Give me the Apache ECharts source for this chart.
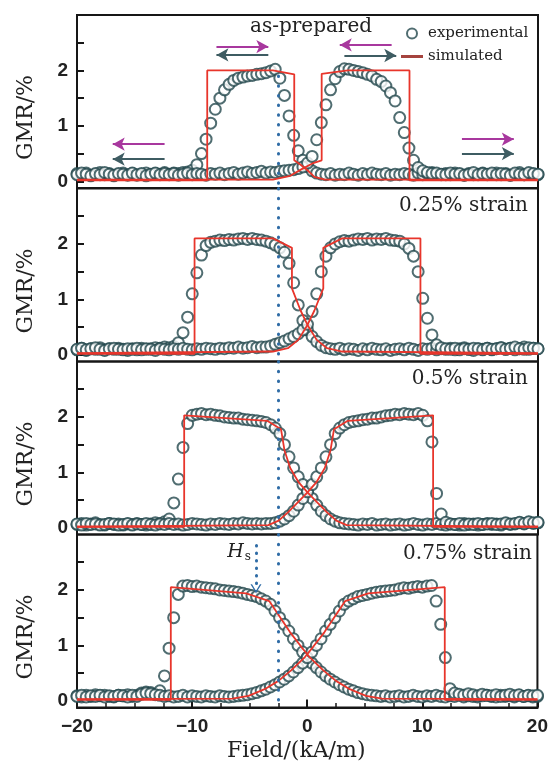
<!DOCTYPE html>
<html>
<head>
<meta charset="utf-8">
<script src="https://cdn.jsdelivr.net/npm/echarts@6/dist/echarts.min.js"></script>
<style>
html, body { margin: 0; background: #fff; }
#chart { width: 551px; height: 764px; }
</style>
</head>
<body>
<div id="chart"></div>
<script>
// field sweep grid (kA/m), shared by every measured branch
var fieldGrid = [-20,-19.6,-19.2,-18.8,-18.4,-18,-17.6,-17.2,-16.8,-16.4,
  -16,-15.6,-15.2,-14.8,-14.4,-14,-13.6,-13.2,-12.8,-12.4,
  -12,-11.6,-11.2,-10.8,-10.4,-10,-9.6,-9.2,-8.8,-8.4,
  -8,-7.6,-7.2,-6.8,-6.4,-6,-5.6,-5.2,-4.8,-4.4,
  -4,-3.6,-3.2,-2.8,-2.4,-2,-1.6,-1.2,-0.8,-0.4,
  0,0.4,0.8,1.2,1.6,2,2.4,2.8,3.2,3.6,
  4,4.4,4.8,5.2,5.6,6,6.4,6.8,7.2,7.6,
  8,8.4,8.8,9.2,9.6,10,10.4,10.8,11.2,11.6,
  12,12.4,12.8,13.2,13.6,14,14.4,14.8,15.2,15.6,
  16,16.4,16.8,17.2,17.6,18,18.4,18.8,19.2,19.6,
  20];

// experimental GMR (%) - as-prepared
var p1Left = [0.14,0.12,0.15,0.11,0.13,0.16,0.12,0.14,0.10,0.13,
  0.15,0.12,0.14,0.11,0.13,0.15,0.12,0.14,0.13,0.16,
  0.13,0.15,0.14,0.16,0.17,0.20,0.30,0.50,0.76,1.05,
  1.30,1.50,1.65,1.75,1.82,1.86,1.88,1.90,1.91,1.93,
  1.94,1.96,1.99,2.02,1.86,1.55,1.18,0.83,0.55,0.38,
  0.27,0.19,0.15,0.13,0.12,0.14,0.11,0.13,0.12,0.15,
  0.13,0.11,0.14,0.12,0.15,0.13,0.12,0.14,0.11,0.13,
  0.12,0.14,0.13,0.11,0.15,0.12,0.14,0.16,0.13,0.12,
  0.14,0.12,0.15,0.13,0.11,0.14,0.12,0.13,0.15,0.12,
  0.13,0.15,0.12,0.14,0.11,0.13,0.16,0.12,0.14,0.13,
  0.12];
var p1Right = [0.12,0.15,0.13,0.10,0.14,0.12,0.16,0.13,0.11,0.14,
  0.13,0.11,0.15,0.12,0.14,0.10,0.13,0.15,0.12,0.14,
  0.12,0.14,0.11,0.13,0.15,0.12,0.14,0.13,0.11,0.14,
  0.13,0.15,0.12,0.14,0.16,0.13,0.15,0.17,0.14,0.16,
  0.18,0.15,0.17,0.16,0.18,0.19,0.20,0.21,0.23,0.26,
  0.33,0.45,0.75,1.06,1.38,1.65,1.85,1.98,2.03,2.02,
  2.00,1.98,1.96,1.93,1.90,1.84,1.80,1.72,1.60,1.45,
  1.15,0.88,0.60,0.38,0.25,0.19,0.16,0.14,0.15,0.13,
  0.12,0.15,0.13,0.14,0.11,0.13,0.16,0.12,0.14,0.13,
  0.15,0.12,0.14,0.13,0.11,0.15,0.13,0.12,0.16,0.14,
  0.13];

// 0.25% strain
var p2Left = [0.09,0.12,0.08,0.11,0.10,0.13,0.09,0.11,0.10,0.12,
  0.10,0.08,0.11,0.09,0.12,0.10,0.11,0.13,0.12,0.14,
  0.13,0.15,0.22,0.40,0.68,1.10,1.48,1.80,1.97,2.03,
  2.05,2.07,2.06,2.08,2.07,2.09,2.10,2.08,2.10,2.08,
  2.07,2.05,2.02,1.98,1.93,1.85,1.65,1.30,0.90,0.62,
  0.45,0.33,0.24,0.17,0.13,0.11,0.10,0.12,0.09,0.11,
  0.10,0.08,0.11,0.09,0.12,0.10,0.09,0.11,0.08,0.10,
  0.11,0.09,0.12,0.10,0.08,0.11,0.10,0.12,0.09,0.11,
  0.10,0.12,0.09,0.11,0.13,0.10,0.08,0.11,0.10,0.12,
  0.09,0.11,0.13,0.10,0.12,0.09,0.11,0.14,0.10,0.12,
  0.11];
var p2Right = [0.10,0.12,0.09,0.11,0.13,0.10,0.08,0.11,0.12,0.10,
  0.09,0.11,0.10,0.12,0.09,0.11,0.10,0.08,0.11,0.10,
  0.09,0.11,0.10,0.12,0.10,0.09,0.11,0.10,0.12,0.11,
  0.10,0.12,0.11,0.13,0.12,0.14,0.12,0.13,0.15,0.13,
  0.14,0.14,0.16,0.19,0.22,0.25,0.29,0.33,0.38,0.45,
  0.55,0.78,1.10,1.50,1.78,1.93,2.00,2.04,2.06,2.05,
  2.07,2.09,2.08,2.10,2.07,2.09,2.08,2.10,2.07,2.06,
  2.05,2.00,1.92,1.78,1.50,1.02,0.66,0.36,0.18,0.13,
  0.11,0.10,0.12,0.09,0.11,0.10,0.12,0.11,0.09,0.12,
  0.10,0.11,0.13,0.10,0.12,0.14,0.11,0.10,0.13,0.12,
  0.11];

// 0.5% strain
var p3Left = [0.06,0.08,0.05,0.07,0.09,0.06,0.05,0.08,0.06,0.07,
  0.05,0.07,0.06,0.08,0.06,0.05,0.07,0.09,0.08,0.11,
  0.16,0.45,0.88,1.45,1.88,2.03,2.05,2.06,2.04,2.05,
  2.03,2.02,2.00,1.99,1.98,1.98,1.96,1.95,1.94,1.93,
  1.92,1.90,1.86,1.80,1.70,1.50,1.28,1.08,0.92,0.78,
  0.65,0.53,0.41,0.30,0.22,0.16,0.12,0.09,0.08,0.07,
  0.06,0.05,0.07,0.06,0.08,0.05,0.06,0.07,0.05,0.06,
  0.07,0.05,0.06,0.08,0.06,0.05,0.07,0.06,0.08,0.06,
  0.05,0.07,0.06,0.05,0.08,0.06,0.07,0.05,0.06,0.08,
  0.06,0.07,0.05,0.08,0.06,0.07,0.09,0.07,0.10,0.08,
  0.09];
var p3Right = [0.07,0.05,0.08,0.06,0.07,0.05,0.06,0.08,0.07,0.05,
  0.06,0.08,0.05,0.07,0.06,0.08,0.06,0.05,0.07,0.06,
  0.08,0.06,0.07,0.05,0.06,0.08,0.07,0.06,0.05,0.07,
  0.06,0.08,0.07,0.06,0.08,0.07,0.09,0.08,0.07,0.08,
  0.07,0.08,0.08,0.09,0.12,0.16,0.22,0.30,0.41,0.53,
  0.65,0.78,0.92,1.08,1.28,1.50,1.70,1.80,1.86,1.90,
  1.92,1.93,1.95,1.96,1.98,1.98,2.00,2.02,2.03,2.05,
  2.04,2.06,2.05,2.04,2.06,2.03,1.93,1.55,0.62,0.25,
  0.10,0.07,0.06,0.08,0.05,0.07,0.06,0.08,0.06,0.07,
  0.08,0.06,0.07,0.09,0.07,0.08,0.10,0.08,0.11,0.09,
  0.10];

// 0.75% strain
var p4Left = [0.09,0.07,0.10,0.08,0.11,0.09,0.10,0.08,0.07,0.10,
  0.09,0.11,0.08,0.10,0.14,0.16,0.15,0.12,0.18,0.45,
  0.95,1.50,1.92,2.07,2.08,2.06,2.07,2.05,2.04,2.03,
  2.02,2.00,1.99,1.98,1.97,1.96,1.94,1.92,1.90,1.88,
  1.84,1.80,1.74,1.62,1.50,1.38,1.26,1.12,1.00,0.88,
  0.78,0.68,0.60,0.52,0.45,0.39,0.34,0.29,0.25,0.21,
  0.18,0.15,0.13,0.11,0.10,0.09,0.08,0.09,0.07,0.08,
  0.09,0.07,0.08,0.10,0.08,0.07,0.09,0.08,0.10,0.08,
  0.07,0.09,0.08,0.10,0.07,0.09,0.08,0.07,0.09,0.10,
  0.08,0.07,0.10,0.08,0.09,0.07,0.10,0.08,0.09,0.07,
  0.08];
var p4Right = [0.08,0.10,0.07,0.09,0.08,0.10,0.07,0.09,0.08,0.10,
  0.09,0.07,0.10,0.08,0.12,0.14,0.13,0.11,0.10,0.08,
  0.09,0.07,0.08,0.10,0.07,0.09,0.08,0.07,0.09,0.08,
  0.07,0.09,0.08,0.07,0.08,0.09,0.10,0.11,0.13,0.15,
  0.18,0.21,0.25,0.29,0.34,0.39,0.45,0.52,0.60,0.68,
  0.78,0.88,1.00,1.12,1.26,1.38,1.50,1.62,1.74,1.80,
  1.84,1.88,1.90,1.92,1.94,1.96,1.97,1.98,1.99,2.00,
  2.02,2.04,2.03,2.05,2.06,2.05,2.07,2.08,1.80,1.38,
  0.78,0.22,0.14,0.12,0.10,0.13,0.11,0.09,0.12,0.10,
  0.09,0.11,0.08,0.10,0.12,0.09,0.11,0.08,0.10,0.09,
  0.10];

// simulated loops, [field, GMR] vertices
var sim1Left = [[-20,0.02],[-8.7,0.02],[-8.7,2.0],[-3,2.0],[-1.15,1.93],[-1.15,0.38],[-0.6,0.3],[0,0.2],[0.6,0.08],[1.5,0.03],[20,0.03]];
var sim1Right = [[-20,0.03],[-3,0.03],[-1.5,0.1],[-0.5,0.22],[0.5,0.33],[1.23,0.38],[1.23,1.94],[3.5,2.0],[8.85,2.0],[8.85,0.02],[20,0.02]];
var sim2Left = [[-20,0.02],[-9.8,0.02],[-9.8,2.1],[-3,2.1],[-1.35,1.93],[-1.35,1.2],[-0.6,0.8],[0,0.54],[0.8,0.27],[1.7,0.12],[3,0.06],[20,0.03]];
var sim2Right = [[-20,0.03],[-3,0.06],[-1.7,0.12],[-0.8,0.27],[0,0.54],[0.6,0.8],[1.37,1.2],[1.37,1.93],[3,2.1],[9.8,2.1],[9.8,0.02],[20,0.02]];
var sim3Left = [[-20,0.02],[-10.7,0.02],[-10.7,2.03],[-3.5,1.93],[-2.3,1.78],[-2.0,1.4],[-1.5,1.08],[-0.8,0.83],[0,0.64],[0.8,0.47],[1.7,0.28],[2.5,0.13],[3.4,0.05],[20,0.02]];
var sim3Right = [[-20,0.02],[-3.4,0.05],[-2.5,0.13],[-1.7,0.28],[-0.8,0.47],[0,0.64],[0.8,0.83],[1.5,1.08],[2.0,1.4],[2.3,1.78],[3.5,1.93],[10.9,2.03],[10.9,0.02],[20,0.02]];
var sim4Left = [[-20,0.02],[-11.85,0.02],[-11.85,2.05],[-5.3,1.94],[-3.3,1.8],[-2.4,1.52],[-1.5,1.24],[-0.5,0.97],[0.2,0.79],[1.4,0.55],[2.5,0.36],[3.7,0.21],[5.1,0.09],[6.5,0.04],[20,0.03]];
var sim4Right = [[-20,0.03],[-6.5,0.04],[-5.1,0.09],[-3.7,0.21],[-2.5,0.36],[-1.4,0.55],[-0.2,0.79],[0.5,0.97],[1.5,1.24],[2.4,1.52],[3.3,1.8],[5.3,1.94],[11.95,2.05],[11.95,0.02],[20,0.02]];

var panelLabels = ['as-prepared', '0.25% strain', '0.5% strain', '0.75% strain'];
var yLabelTicks = [0, 1, 2];
var yTickMarks = [0, 0.5, 1, 1.5, 2, 2.5];
var xMinorTicks = [-17.5, -15, -12.5, -7.5, -5, -2.5, 2.5, 5, 7.5, 12.5, 15, 17.5];

var magenta = '#a8389e';
var slate = '#3e5c62';
var dotBlue = '#2f6ca6';
var circleColor = '#24494e';
var simColor = '#e8352b';
var ink = '#161616';

var panels = [
  { left: p1Left, right: p1Right, simL: sim1Left, simR: sim1Right },
  { left: p2Left, right: p2Right, simL: sim2Left, simR: sim2Right },
  { left: p3Left, right: p3Right, simL: sim3Left, simR: sim3Right },
  { left: p4Left, right: p4Right, simL: sim4Left, simR: sim4Right }
];
var panelTops = [15, 188.5, 361.5, 534.5];

function pairs(arr) {
  return fieldGrid.map(function (f, i) { return [f, arr[i]]; });
}

var dotted = { color: dotBlue, width: 3, type: [0.5, 9.2], cap: 'round' };

// sweep-direction arrows (panel 1)
var arrowLines = [
  [{ coord: [-7.9, 2.43], lineStyle: { color: magenta, width: 2, type: 'solid' } }, { coord: [-3.4, 2.43], symbol: 'arrow' }],
  [{ coord: [-3.4, 2.28], lineStyle: { color: slate, width: 2, type: 'solid' } }, { coord: [-7.9, 2.28], symbol: 'arrow' }],
  [{ coord: [7.3, 2.46], lineStyle: { color: magenta, width: 2, type: 'solid' } }, { coord: [2.8, 2.46], symbol: 'arrow' }],
  [{ coord: [3.2, 2.27], lineStyle: { color: slate, width: 2, type: 'solid' } }, { coord: [7.7, 2.27], symbol: 'arrow' }],
  [{ coord: [-12.4, 0.67], lineStyle: { color: magenta, width: 2, type: 'solid' } }, { coord: [-16.9, 0.67], symbol: 'arrow' }],
  [{ coord: [-12.4, 0.4], lineStyle: { color: slate, width: 2, type: 'solid' } }, { coord: [-16.9, 0.4], symbol: 'arrow' }],
  [{ coord: [13.4, 0.76], lineStyle: { color: magenta, width: 2, type: 'solid' } }, { coord: [17.9, 0.76], symbol: 'arrow' }],
  [{ coord: [13.4, 0.5], lineStyle: { color: slate, width: 2, type: 'solid' } }, { coord: [17.9, 0.5], symbol: 'arrow' }]
];

var grids = [], xAxes = [], yAxes = [], series = [], titles = [];
panels.forEach(function (p, i) {
  var last = i === 3;
  grids.push({ left: 77, right: 13, top: panelTops[i], height: 173, show: true, borderColor: ink, borderWidth: 2 });
  xAxes.push({
    type: 'value', gridIndex: i, min: -20, max: 20, interval: 10, position: 'bottom',
    axisLine: { show: last, onZero: false, lineStyle: { color: ink, width: 2 } },
    axisTick: { show: last, inside: true, length: 8, lineStyle: { color: ink, width: 2 } },
    axisLabel: {
      show: last, margin: 10, fontFamily: 'Liberation Sans', fontWeight: 'bold', fontSize: 19, color: '#222',
      formatter: function (v) { return String(v).replace('-', '\u2212'); }
    },
    splitLine: { show: false },
    name: last ? 'Field/(kA/m)' : '', nameLocation: 'middle', nameGap: 33,
    nameTextStyle: { fontFamily: 'DejaVu Serif', fontSize: 22, color: '#222', padding: [0, 22, 0, 0] }
  });
  yAxes.push({
    type: 'value', gridIndex: i, min: -0.12, max: 3, position: 'left',
    axisLine: { show: true, onZero: false, lineStyle: { color: ink, width: 2 } },
    axisTick: { show: true, inside: true, length: 7, customValues: yTickMarks, lineStyle: { color: ink, width: 2 } },
    axisLabel: { customValues: yLabelTicks, margin: 9, fontFamily: 'Liberation Sans', fontWeight: 'bold', fontSize: 19, color: '#222' },
    splitLine: { show: false },
    name: 'GMR/%', nameLocation: 'middle', nameRotate: 90, nameGap: 40,
    nameTextStyle: { fontFamily: 'DejaVu Serif', fontSize: 22, color: '#222', padding: [0, 32, 0, 0] }
  });

  [p.left, p.right].forEach(function (arr) {
    series.push({
      type: 'scatter', name: 'experimental', xAxisIndex: i, yAxisIndex: i,
      data: pairs(arr), symbol: 'emptyCircle', symbolSize: 11,
      itemStyle: { color: circleColor, borderWidth: 2.2 }, silent: true, z: 2
    });
  });

  var marks = [];
  if (i === 0) {
    marks.push([{ coord: [-2.5, 1.9], lineStyle: dotted }, { coord: [-2.5, -0.12] }]);
    marks = marks.concat(arrowLines);
  } else {
    marks.push([{ coord: [-2.5, 3], lineStyle: dotted }, { coord: [-2.5, -0.12] }]);
  }
  if (last) {
    marks.push([{ coord: [-4.45, 2.8], lineStyle: { color: dotBlue, width: 3, type: [0.5, 7], cap: 'round' } },
      { coord: [-4.45, 2.02], symbol: 'path://M0,10 L5,0 L10,10 L8.6,10 L5,3 L1.4,10 Z', symbolSize: [11, 9] }]);
    // minor field ticks along the bottom axis
    xMinorTicks.forEach(function (f) {
      marks.push([{ coord: [f, -0.12], lineStyle: { color: ink, width: 1.5, type: 'solid' } }, { coord: [f, -0.04] }]);
    });
  }

  series.push({
    type: 'line', name: 'simulated', xAxisIndex: i, yAxisIndex: i, data: p.simL,
    showSymbol: false, symbol: 'none', lineStyle: { color: simColor, width: 1.8 }, itemStyle: { color: simColor },
    silent: true, z: 3,
    markLine: { silent: true, symbol: ['none', 'none'], symbolSize: [10, 12], label: { show: false }, data: marks },
    markPoint: last ? {
      silent: true, symbol: 'circle', symbolSize: 1, itemStyle: { color: 'rgba(0,0,0,0)' },
      data: [{
        coord: [-4.85, 2.68],
        label: {
          show: true, position: 'left', distance: 0, formatter: '{h|H}{s|s}',
          rich: {
            h: { fontFamily: 'DejaVu Serif', fontStyle: 'italic', fontSize: 19, color: '#222' },
            s: { fontFamily: 'DejaVu Serif', fontSize: 12, color: '#222', padding: [9, 0, 0, 1] }
          }
        }
      }]
    } : undefined
  });
  series.push({
    type: 'line', name: 'simulated', xAxisIndex: i, yAxisIndex: i, data: p.simR,
    showSymbol: false, symbol: 'none', lineStyle: { color: simColor, width: 1.8 }, itemStyle: { color: simColor },
    silent: true, z: 3
  });
});

var titleStyle = { fontFamily: 'DejaVu Serif', fontSize: 20, fontWeight: 'normal', color: '#222' };
titles.push({ text: panelLabels[0], left: 250, top: 17, padding: 0, textStyle: titleStyle });
titles.push({ text: panelLabels[1], right: 23, top: 196, padding: 0, textStyle: titleStyle });
titles.push({ text: panelLabels[2], right: 23, top: 369, padding: 0, textStyle: titleStyle });
titles.push({ text: panelLabels[3], right: 19, top: 544, padding: 0, textStyle: titleStyle });

var chart = echarts.init(document.getElementById('chart'));
chart.setOption({
  backgroundColor: '#fff',
  animation: false,
  title: titles,
  legend: {
    orient: 'vertical', left: 401, top: 26, padding: 0, itemGap: 8,
    itemWidth: 22, itemHeight: 10, selectedMode: false,
    textStyle: { fontFamily: 'DejaVu Serif', fontSize: 15, color: '#222' },
    data: [
      { name: 'experimental', icon: 'emptyCircle' },
      { name: 'simulated', icon: 'path://M0,0H22V3H0Z', itemStyle: { color: '#a5433e' } }
    ]
  },
  grid: grids,
  xAxis: xAxes,
  yAxis: yAxes,
  series: series
});
</script>
</body>
</html>
